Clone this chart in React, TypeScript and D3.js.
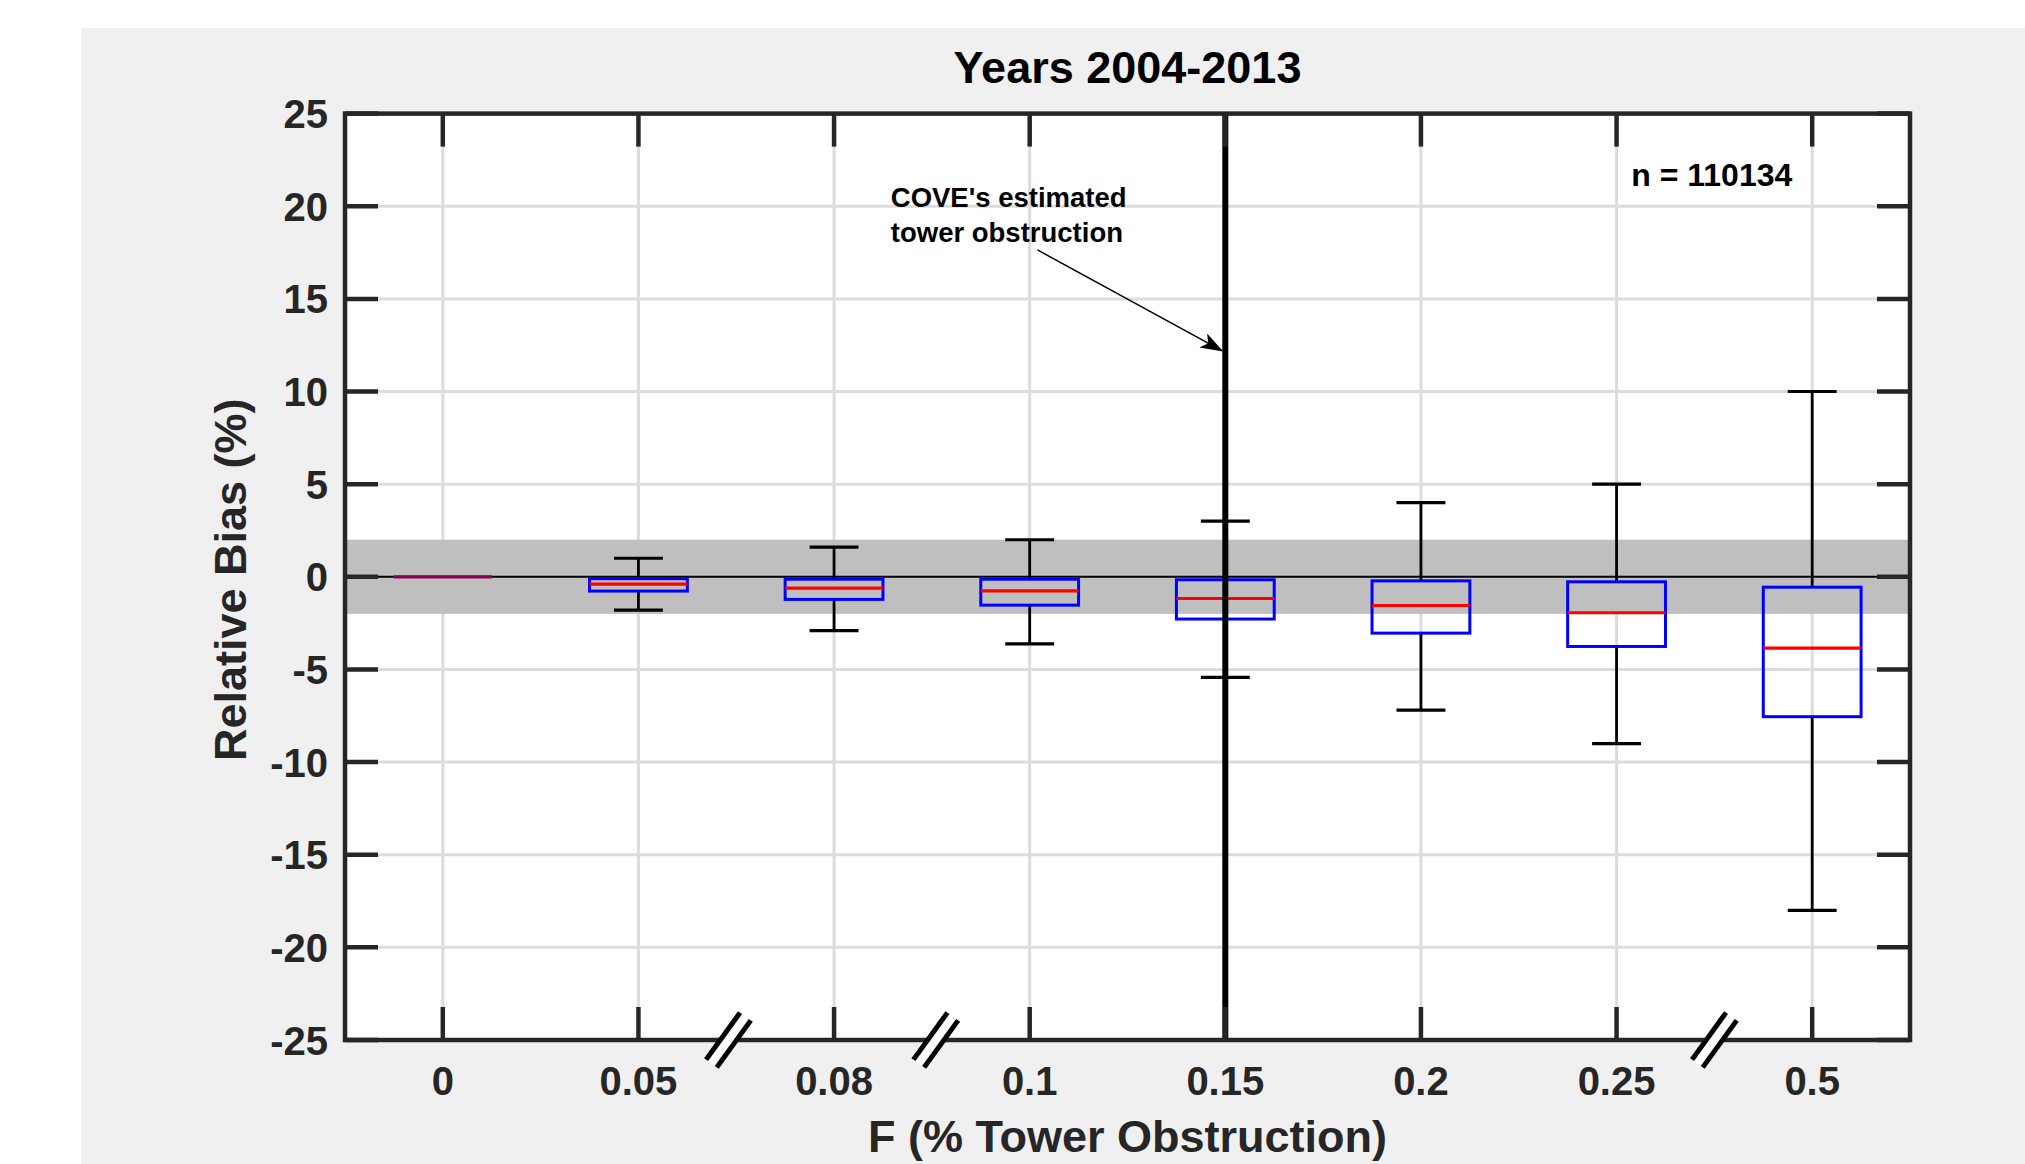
import * as d3 from "d3";
import React from "react";

// box plot values (relative bias, %)
const categories = ["0", "0.05", "0.08", "0.1", "0.15", "0.2", "0.25", "0.5"];
const whiskerHigh = [0, 1.0, 1.6, 2.0, 3.0, 4.0, 5.0, 10.0];
const q3 = [0, -0.1, -0.13, -0.13, -0.16, -0.22, -0.27, -0.56];
const medians = [0, -0.4, -0.61, -0.76, -1.17, -1.55, -1.94, -3.85];
const q1 = [0, -0.77, -1.22, -1.53, -2.28, -3.04, -3.76, -7.55];
const whiskerLow = [0, -1.8, -2.9, -3.62, -5.43, -7.2, -9.0, -18.0];

const yTicks = [-25, -20, -15, -10, -5, 0, 5, 10, 15, 20, 25];
const bandLimits = [-2, 2];
const coveCategory = "0.15";
const breakPositions = [2.46, 3.52, 7.5]; // axis breaks, in category units
const titleText = "Years 2004-2013";
const nText = "n = 110134";
const noteLines = ["COVE's estimated", "tower obstruction"];

const FONT = "'Liberation Sans', Arial, Helvetica, sans-serif";
const AX = "#262626";

const App = () => {
  const width = 2025;
  const height = 1164;
  const left = 345, right = 1910, top = 113.6, bottom = 1040;

  const x = d3.scaleLinear().domain([0.5, categories.length + 0.5]).range([left, right]);
  const y = d3.scaleLinear().domain([-25, 25]).range([bottom, top]);
  const step = x(2) - x(1);
  const boxW = step * 0.5;
  const capW = step * 0.25;
  const tickLen = 33;

  const pos = (i: number) => x(i + 1);
  const coveX = pos(categories.indexOf(coveCategory));

  // annotation anchor points in data units
  const arrowFrom = [4.04, 17.64];
  const arrowTo = [5, 12.19];
  const noteAt = [3.29, 19.94];
  const nAt = [7.075, 21.09];

  const ang = Math.atan2(47, -34);
  const dx = Math.cos(ang), dy = Math.sin(ang);
  const nx = -dy, ny = dx;

  return (
    <svg width={width} height={height} style={{ position: "absolute", left: 0, top: 0, display: "block" }}>
      <defs>
        <marker id="arrowhead" viewBox="0 0 20 14" refX="19" refY="7" markerWidth="24" markerHeight="16"
          markerUnits="userSpaceOnUse" orient="auto">
          <path d="M0,0 L20,7 L0,14 L5,7 Z" fill="#000" />
        </marker>
      </defs>
      <rect x={0} y={0} width={width} height={height} fill="#ffffff" />
      <rect x={81} y={28} width={width - 81} height={height - 28} fill="#f0f0f0" />
      <rect x={left} y={top} width={right - left} height={bottom - top} fill="#ffffff" />

      {/* grid */}
      {yTicks.map(t => (
        <line key={"gy" + t} x1={left} x2={right} y1={y(t)} y2={y(t)} stroke="#dcdcdc" strokeWidth={3} />
      ))}
      {categories.map((c, i) => (
        <line key={"gx" + c} x1={pos(i)} x2={pos(i)} y1={top} y2={bottom} stroke="#dcdcdc" strokeWidth={3} />
      ))}

      {/* +-2% band and zero line */}
      <rect x={left} y={y(bandLimits[1])} width={right - left} height={y(bandLimits[0]) - y(bandLimits[1])} fill="#bfbfbf" />
      <line x1={left} x2={right} y1={y(0)} y2={y(0)} stroke="#000" strokeWidth={2} />

      {/* boxes */}
      {categories.map((c, i) => {
        const cx = pos(i);
        return (
          <g key={"b" + c}>
            <line x1={cx} x2={cx} y1={y(whiskerHigh[i])} y2={y(q3[i])} stroke="#000" strokeWidth={2.8} />
            <line x1={cx} x2={cx} y1={y(q1[i])} y2={y(whiskerLow[i])} stroke="#000" strokeWidth={2.8} />
            {whiskerHigh[i] !== whiskerLow[i] && (
              <>
                <line x1={cx - capW / 2} x2={cx + capW / 2} y1={y(whiskerHigh[i])} y2={y(whiskerHigh[i])} stroke="#000" strokeWidth={3.2} />
                <line x1={cx - capW / 2} x2={cx + capW / 2} y1={y(whiskerLow[i])} y2={y(whiskerLow[i])} stroke="#000" strokeWidth={3.2} />
              </>
            )}
            <rect x={cx - boxW / 2} y={y(q3[i])} width={boxW} height={y(q1[i]) - y(q3[i])}
              fill="none" stroke="#0000ff" strokeWidth={3} />
            <line x1={cx - boxW / 2} x2={cx + boxW / 2} y1={y(medians[i])} y2={y(medians[i])}
              stroke={i === 0 ? "#8a0050" : "#ff0000"} strokeWidth={3.2} />
          </g>
        );
      })}

      {/* COVE line */}
      <line x1={coveX} x2={coveX} y1={top} y2={bottom} stroke="#000" strokeWidth={6} />

      {/* axes box and ticks */}
      <rect x={left} y={top} width={right - left} height={bottom - top} fill="none" stroke={AX} strokeWidth={4.5} />
      {yTicks.map(t => (
        <g key={"ty" + t}>
          <line x1={left} x2={left + tickLen} y1={y(t)} y2={y(t)} stroke={AX} strokeWidth={4.5} />
          <line x1={right - tickLen} x2={right} y1={y(t)} y2={y(t)} stroke={AX} strokeWidth={4.5} />
          <text x={left - 17} y={y(t) + 14.5} textAnchor="end" fontFamily={FONT} fontWeight="bold" fontSize={40} fill={AX}>
            {t}
          </text>
        </g>
      ))}
      {categories.map((c, i) => (
        <g key={"tx" + c}>
          <line x1={pos(i)} x2={pos(i)} y1={bottom} y2={bottom - tickLen} stroke={AX} strokeWidth={4.5} />
          <line x1={pos(i)} x2={pos(i)} y1={top} y2={top + tickLen} stroke={AX} strokeWidth={4.5} />
          <text x={pos(i)} y={1095} textAnchor="middle" fontFamily={FONT} fontWeight="bold" fontSize={40} fill={AX}>
            {c}
          </text>
        </g>
      ))}

      {/* axis breaks */}
      {breakPositions.map(b => {
        const bx = x(b), by = bottom;
        const L = 29;
        const off = 6.6;
        return (
          <g key={"br" + b}>
            <line x1={bx - dx * L} y1={by - dy * L} x2={bx + dx * L} y2={by + dy * L} stroke="#fff" strokeWidth={11} />
            {[-off, off].map(o => (
              <line key={o} x1={bx + nx * o - dx * L} y1={by + ny * o - dy * L} x2={bx + nx * o + dx * L} y2={by + ny * o + dy * L}
                stroke="#000" strokeWidth={5} />
            ))}
          </g>
        );
      })}

      {/* annotation */}
      {noteLines.map((l, k) => (
        <text key={l} x={x(noteAt[0])} y={y(noteAt[1]) + k * 34.4} fontFamily={FONT} fontWeight="bold" fontSize={27.5} fill="#000">
          {l}
        </text>
      ))}
      <line x1={x(arrowFrom[0])} y1={y(arrowFrom[1])} x2={x(arrowTo[0]) - 3} y2={y(arrowTo[1])}
        stroke="#000" strokeWidth={1.5} markerEnd="url(#arrowhead)" />
      <text x={x(nAt[0])} y={y(nAt[1])} fontFamily={FONT} fontWeight="bold" fontSize={32} fill="#000">{nText}</text>

      {/* titles */}
      <text x={(left + right) / 2} y={82.7} textAnchor="middle" fontFamily={FONT} fontWeight="bold" fontSize={45} fill="#000">
        {titleText}
      </text>
      <text x={(left + right) / 2} y={1152} textAnchor="middle" fontFamily={FONT} fontWeight="bold" fontSize={45} fill={AX}>
        F (% Tower Obstruction)
      </text>
      <text transform={`translate(246,${(top + bottom) / 2 + 3}) rotate(-90)`} textAnchor="middle" fontFamily={FONT}
        fontWeight="bold" fontSize={45} fill={AX}>
        Relative Bias (%)
      </text>
    </svg>
  );
};

export default App;
